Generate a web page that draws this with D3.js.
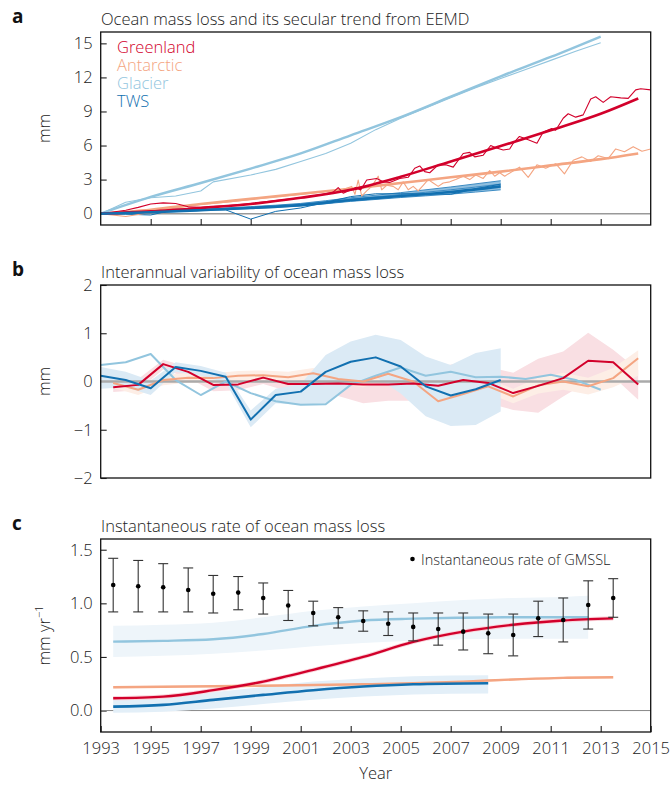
<!doctype html>
<html lang="en">
<head>
<meta charset="utf-8">
<title></title>
<script src="https://d3js.org/d3.v7.min.js"></script>
<style>
body{margin:0;background:#fff;}
text{font-family:"Open Sans","Noto Sans",sans-serif;fill:#222;font-weight:300;}
.tick text{font-size:16.5px;}
.tick line{stroke:#222;stroke-width:1.1;}
.title{font-size:16.5px;}
.plabel{font-size:19px;font-weight:700;fill:#111;}
</style>
</head>
<body>
<script>
// ---------- data: panel a (cumulative mass loss, mm) ----------
var glacierTrendYears = [1993,1995,1997,1999,2001,2003,2005,2007,2009,2011,2013];
var glacierTrend      = [0,1.47,2.7,3.97,5.3,6.9,8.5,10.3,12.1,13.8,15.6];
var glacierRawYears   = [1993,1994,1995,1996,1997,1997.5,1999,2000,2001,2002,2003,2004,2005,2006,2007,2008,2009,2010,2011,2012,2013];
var glacierRaw        = [0,1.0,1.4,1.55,2.0,2.8,3.4,3.9,4.6,5.3,6.2,7.4,8.4,9.3,10.2,11.1,11.9,12.7,13.5,14.3,15.05];

var greenTrendYears = [1993,1995,1997,1999,2001,2003,2005,2007,2009,2011,2013,2014.5];
var greenTrend      = [0,0.2,0.5,0.85,1.4,2.1,3.25,4.6,5.95,7.35,8.8,10.15];
var greenRawYears = [1993,1993.5,1994,1994.5,1995,1995.5,1996,1996.5,1997,1998,1999,2000,2001,2002,2002.3,2002.5,2002.7,2002.9,
  2003.04,2003.2,2003.4,2003.64,2004.04,2004.3,2004.56,2004.96,2005.3,2005.56,2005.76,2005.96,2006.16,2006.5,2006.8,2007.1,
  2007.5,2007.76,2007.96,2008.3,2008.6,2008.8,2009.1,2009.36,2009.5,2009.75,2010.1,2010.45,2010.7,2011.04,2011.2,2011.5,
  2011.7,2012.0,2012.3,2012.6,2012.8,2013.1,2013.4,2013.8,2014.1,2014.4,2014.6,2015];
var greenRaw = [0,0.15,0.3,0.55,0.85,0.95,0.9,0.6,0.55,0.7,0.9,1.15,1.4,1.75,1.9,2.3,1.8,2.0,
  2.08,2.3,2.08,2.96,3.1,2.8,2.75,3.1,3.2,4.0,4.2,3.7,3.6,4.3,4.3,4.1,
  5.3,5.4,5.0,5.15,6.0,5.8,5.6,5.7,6.2,6.8,6.5,6.2,7.2,7.5,7.35,8.4,
  8.8,8.5,8.7,10.1,10.3,9.8,10.3,10.2,10.15,10.9,11.0,10.9];

var antTrendYears = [1993,1995,1997,1999,2001,2003,2005,2007,2009,2011,2013,2014.5];
var antTrend      = [0,0.35,0.85,1.3,1.75,2.2,2.7,3.2,3.7,4.25,4.8,5.3];
var antRawYears = [1993,1994,1995,1996,1997,1998,1999,2000,2001,2002,2002.5,
  2003.04,2003.17,2003.3,2003.44,2003.64,2003.84,2004.1,2004.24,2004.44,2004.7,2004.9,2005.1,2005.3,2005.5,2005.7,2005.9,
  2006.1,2006.3,2006.5,2006.7,2006.96,2007.2,2007.5,2007.76,2008.0,2008.3,2008.56,2008.76,2008.96,2009.16,2009.3,2009.75,
  2010.1,2010.45,2010.8,2011.2,2011.55,2011.9,2012.25,2012.6,2012.9,2013.3,2013.6,2013.95,2014.3,2014.65,2015];
var antRaw = [0,-0.25,0.1,0.5,0.8,1.0,1.25,1.5,1.7,1.95,2.0,
  2.4,1.7,2.96,1.55,2.0,2.4,3.3,2.1,2.5,2.4,2.1,2.8,2.1,2.4,2.0,2.5,
  3.0,2.7,2.4,2.7,2.8,3.0,3.3,3.0,3.4,3.1,3.8,3.3,3.6,3.3,3.5,4.1,
  3.2,4.3,4.0,4.4,3.5,4.7,5.0,4.6,5.1,4.85,5.7,5.45,5.9,5.5,5.7];

var twsYears   = [1993,1995,1997,1999,2001,2003,2005,2007,2009];
var twsTrend   = [0,0.12,0.3,0.5,0.75,1.2,1.55,1.9,2.4];
var twsEnsHigh = [0,0.15,0.38,0.62,0.9,1.4,1.85,2.35,2.9];
var twsEnsMid  = [0,0.13,0.33,0.55,0.82,1.28,1.68,2.1,2.6];
var twsEnsLow  = [0,0.1,0.27,0.45,0.68,1.08,1.42,1.72,2.1];
var twsRawYears = [1993,1994,1995,1996,1997,1998,1999,2000,2001,2002,2003,2004,2005,2006,2007,2008,2009];
var twsRaw      = [0,-0.05,-0.12,0.38,0.35,0.33,-0.48,0.2,0.5,1.0,1.5,1.75,1.75,1.75,1.7,2.2,2.6];

// ---------- data: panel b (interannual variability, mm) ----------
var midYears = [1993.5,1994.5,1995.5,1996.5,1997.5,1998.5,1999.5,2000.5,2001.5,2002.5,2003.5,
                2004.5,2005.5,2006.5,2007.5,2008.5,2009.5,2010.5,2011.5,2012.5,2013.5,2014.5];
var greenIV   = [-0.12,-0.07,0.36,0.2,-0.07,-0.06,0.08,-0.05,-0.05,-0.04,-0.06,-0.06,-0.04,-0.09,0.03,-0.03,-0.24,-0.09,0.07,0.43,0.4,-0.06];
var greenIVhi = [0.0,0.05,0.45,0.3,0.05,0.05,0.18,0.1,0.1,0.15,0.25,0.3,0.3,0.3,0.4,0.3,0.18,0.47,0.62,1.01,0.66,0.24];
var greenIVlo = [-0.22,-0.18,0.25,0.08,-0.2,-0.18,-0.05,-0.2,-0.25,-0.3,-0.45,-0.4,-0.4,-0.45,-0.35,-0.45,-0.59,-0.65,-0.31,0.0,0.1,-0.38];
var antIV   = [-0.03,-0.17,0.03,0.08,0.07,0.12,0.13,0.09,0.17,0.05,0.0,0.16,0.0,-0.41,-0.26,-0.1,-0.31,-0.08,0.0,-0.1,0.07,0.48];
var antIVhi = [0.07,-0.05,0.13,0.18,0.17,0.22,0.23,0.2,0.28,0.16,0.12,0.28,0.12,-0.28,-0.12,0.05,-0.15,0.08,0.18,0.08,0.28,0.65];
var antIVlo = [-0.13,-0.28,-0.08,-0.02,-0.04,0.02,0.03,-0.02,0.06,-0.06,-0.12,0.04,-0.12,-0.52,-0.4,-0.25,-0.45,-0.25,-0.17,-0.27,-0.12,0.12];
var annYears  = [1993,1994,1995,1996,1997,1998,1999,2000,2001,2002,2003,2004,2005,2006,2007,2008,2009,2010,2011,2012,2013];
var glacierIV = [0.34,0.4,0.57,0.03,-0.28,0.0,-0.24,-0.41,-0.48,-0.47,-0.07,0.12,0.29,0.12,0.2,0.09,0.1,0.05,0.14,0.03,-0.17];
var twsIVYears = [1993,1994,1995,1996,1997,1998,1999,2000,2001,2002,2003,2004,2005,2006,2007,2008,2009];
var twsIV   = [0.12,0.03,-0.14,0.3,0.22,0.1,-0.79,-0.28,-0.21,0.2,0.41,0.5,0.31,-0.1,-0.29,-0.16,0.03];
var twsIVhi = [0.3,0.2,0.02,0.4,0.32,0.18,-0.6,-0.15,-0.05,0.55,0.83,0.97,0.86,0.52,0.34,0.59,0.69];
var twsIVlo = [-0.15,-0.12,-0.28,0.2,0.12,-0.02,-0.95,-0.45,-0.48,-0.47,-0.05,0.1,-0.25,-0.72,-0.92,-0.9,-0.62];

// ---------- data: panel c (instantaneous rate, mm/yr) ----------
var rateYears   = [1993.5,1995.5,1997.5,1999.5,2001.5,2003.5,2005.5,2007.5,2009.5,2011.5,2013.5];
var greenRate   = [0.115,0.13,0.19,0.27,0.38,0.5,0.64,0.736,0.8,0.84,0.86];
var greenRateHi = [0.135,0.15,0.21,0.29,0.4,0.52,0.66,0.756,0.82,0.86,0.88];
var greenRateLo = [0.095,0.11,0.17,0.25,0.36,0.48,0.62,0.716,0.78,0.82,0.84];
var antRate     = [0.217,0.222,0.227,0.232,0.238,0.245,0.255,0.27,0.29,0.305,0.31];
var antRateHi   = [0.227,0.232,0.237,0.242,0.248,0.255,0.265,0.28,0.3,0.315,0.32];
var antRateLo   = [0.207,0.212,0.217,0.222,0.228,0.235,0.245,0.26,0.28,0.295,0.3];
var glacRateYears = [1993.5,1995.5,1997.5,1999.5,2001.5,2003.5,2005.5,2007.5,2009.5,2011.5,2012.5];
var glacRate    = [0.643,0.65,0.665,0.714,0.79,0.84,0.857,0.866,0.87,0.87,0.87];
var glacRateHi  = [0.79,0.8,0.82,0.87,0.93,0.97,1.0,1.03,1.05,1.06,1.07];
var glacRateLo  = [0.5,0.51,0.53,0.56,0.6,0.63,0.65,0.665,0.67,0.67,0.67];
var twsRateYears = [1993.5,1995.5,1997.5,1999.5,2001.5,2003.5,2005.5,2008.5];
var twsRate     = [0.037,0.053,0.1,0.146,0.19,0.224,0.245,0.255];
var twsRateHi   = [0.1,0.12,0.17,0.22,0.27,0.3,0.32,0.33];
var twsRateLo   = [-0.02,-0.01,0.02,0.06,0.1,0.13,0.15,0.16];
var gmsslYears = [1993.5,1994.5,1995.5,1996.5,1997.5,1998.5,1999.5,2000.5,2001.5,2002.5,2003.5,
                  2004.5,2005.5,2006.5,2007.5,2008.5,2009.5,2010.5,2011.5,2012.5,2013.5];
var gmssl   = [1.171,1.16,1.15,1.124,1.09,1.10,1.05,0.98,0.91,0.87,0.835,0.81,0.78,0.76,0.736,0.72,0.705,0.86,0.845,0.985,1.05];
var gmsslHi = [1.42,1.40,1.37,1.33,1.26,1.25,1.19,1.12,1.02,0.96,0.93,0.92,0.91,0.91,0.91,0.90,0.90,1.02,1.05,1.21,1.23];
var gmsslLo = [0.92,0.92,0.92,0.92,0.91,0.94,0.90,0.84,0.79,0.77,0.74,0.70,0.65,0.61,0.565,0.53,0.51,0.69,0.64,0.76,0.87];

var legendNames = ["Greenland","Antarctic","Glacier","TWS"];
var yearTicks = [1993,1995,1997,1999,2001,2003,2005,2007,2009,2011,2013,2015];

// ---------- layout ----------
var red = "#d2002b", orange = "#f4a582", lblue = "#92c5de", dblue = "#1270b0";
var legendColors = [red, orange, lblue, dblue];

var svg = d3.select("body").append("svg")
  .attr("width", 670)
  .attr("height", 785)

var x = d3.scaleLinear().domain([1993,2015]).range([100.7,650.7]);
var yA = d3.scaleLinear().domain([-1,16]).range([225,32]);
var yB = d3.scaleLinear().domain([-2,2]).range([478,285]);
var yC = d3.scaleLinear().domain([-0.2,1.6]).range([732,539]);

function line(y, curve) {
  return d3.line().x(d=>x(d[0])).y(d=>y(d[1])).curve(curve || d3.curveLinear);
}
function area(y, curve) {
  return d3.area().x(d=>x(d[0])).y0(d=>y(d[1])).y1(d=>y(d[2])).curve(curve || d3.curveLinear);
}
function drawLine(g, y, xs, vs, color, w, curve) {
  g.append("path")
    .attr("d", line(y, curve)(d3.zip(xs, vs)))
    .style("fill","none").style("stroke",color).style("stroke-width",w)
    .style("stroke-linejoin","round");
}
function drawBand(g, y, xs, lo, hi, color, curve) {
  g.append("path")
    .attr("d", area(y, curve)(d3.zip(xs, lo, hi)))
    .style("fill", color).style("stroke","none");
}

function panel(y, top, bottom, ticks, fmt, label, title, letter, xLabels) {
  var g = svg.append("g");
  g.append("g")
    .attr("transform","translate("+x(1993)+",0)")
    .call(d3.axisLeft(y).tickValues(ticks).tickSize(-6).tickPadding(8).tickFormat(fmt))
    .call(a=>a.select(".domain").remove());
  if (xLabels !== null) {
    g.append("g")
      .attr("transform","translate(0,"+bottom+")")
      .call(d3.axisBottom(x).tickValues(xLabels ? yearTicks : yearTicks.slice(1,-1))
        .tickSize(-6).tickPadding(10).tickFormat(xLabels ? d3.format("d") : ""))
      .call(a=>a.select(".domain").remove());
  }
  svg.append("text").attr("class","plabel").attr("x",12).attr("y",top-9).text(letter);
  svg.append("text").attr("class","title").attr("x",101).attr("y",top-7).text(title);
  var lab = svg.append("text")
    .attr("transform","translate(50,"+((top+bottom)/2)+") rotate(-90)")
    .attr("text-anchor","middle").style("font-size","16.5px");
  lab.append("tspan").text(label);
  return lab;
}
function frame(top, bottom) {
  svg.append("rect")
    .attr("x", x(1993)).attr("y", top)
    .attr("width", x(2015)-x(1993)).attr("height", bottom-top)
    .style("fill","none").style("stroke","#111").style("stroke-width",1.3);
}

// ---------- panel a ----------
panel(yA, 32, 225, [0,3,6,9,12,15], d3.format("d"), "mm",
  "Ocean mass loss and its secular trend from EEMD", "a", false);
var gA = svg.append("g");
gA.append("line").attr("x1",x(1993)).attr("x2",x(2015)).attr("y1",yA(0)).attr("y2",yA(0))
  .style("stroke","#999").style("stroke-width",1.5);

drawBand(gA, yA, twsYears, twsEnsLow, twsEnsHigh, "#8fbfdf");
drawLine(gA, yA, twsYears, twsEnsHigh, "#3d8cc4", 1, d3.curveMonotoneX);
drawLine(gA, yA, twsYears, twsEnsMid, "#3d8cc4", 1, d3.curveMonotoneX);
drawLine(gA, yA, twsYears, twsEnsLow, "#3d8cc4", 1, d3.curveMonotoneX);
drawLine(gA, yA, twsRawYears, twsRaw, dblue, 1);
drawLine(gA, yA, glacierRawYears, glacierRaw, lblue, 1.1);
drawLine(gA, yA, glacierTrendYears, glacierTrend, lblue, 2.4, d3.curveMonotoneX);
drawLine(gA, yA, antRawYears, antRaw, orange, 1.1);
drawLine(gA, yA, antTrendYears, antTrend, orange, 2.6, d3.curveMonotoneX);
drawLine(gA, yA, greenRawYears, greenRaw, red, 1.1);
drawLine(gA, yA, greenTrendYears, greenTrend, red, 2.6, d3.curveMonotoneX);
drawLine(gA, yA, twsYears, twsTrend, dblue, 2.6, d3.curveMonotoneX);

gA.selectAll(".leg").data(legendNames).enter().append("text")
  .attr("x",117).attr("y",(d,i)=>52.5+i*18.3)
  .style("font-size","16.5px").style("fill",(d,i)=>legendColors[i])
  .text(d=>d);
frame(32, 225);

// ---------- panel b ----------
panel(yB, 285, 478, [-2,-1,0,1,2], d3.format("d"), "mm",
  "Interannual variability of ocean mass loss", "b", null);
var gB = svg.append("g");
drawBand(gB, yB, midYears, greenIVlo, greenIVhi, "#f9dfe3");
drawBand(gB, yB, midYears, antIVlo, antIVhi, "#fdeee6");
drawBand(gB, yB, twsIVYears, twsIVlo, twsIVhi, "#dbeaf5");
gB.append("line").attr("x1",x(1993)).attr("x2",x(2015)).attr("y1",yB(0)).attr("y2",yB(0))
  .style("stroke","#aaa").style("stroke-width",2.4);
drawLine(gB, yB, annYears, glacierIV, lblue, 2);
drawLine(gB, yB, midYears, antIV, orange, 2);
drawLine(gB, yB, midYears, greenIV, red, 2);
drawLine(gB, yB, twsIVYears, twsIV, dblue, 2);
frame(285, 478);

// ---------- panel c ----------
var labC = panel(yC, 539, 732, [0,0.5,1,1.5], d3.format(".1f"), "mm yr",
  "Instantaneous rate of ocean mass loss", "c", true);
labC.append("tspan").attr("dy",-7).style("font-size","11px").text("\u22121");
var gC = svg.append("g");
gC.append("line").attr("x1",x(1993)).attr("x2",x(2015)).attr("y1",yC(0)).attr("y2",yC(0))
  .style("stroke","#888").style("stroke-width",1);
var smooth = d3.curveMonotoneX;
drawBand(gC, yC, glacRateYears, glacRateLo, glacRateHi, "#eef5fa", smooth);
drawBand(gC, yC, twsRateYears, twsRateLo, twsRateHi, "#e3eff8", smooth);
drawBand(gC, yC, rateYears, greenRateLo, greenRateHi, "#f9d3da", smooth);
drawBand(gC, yC, rateYears, antRateLo, antRateHi, "#fde3d6", smooth);
drawLine(gC, yC, glacRateYears, glacRate, lblue, 2.4, smooth);
drawLine(gC, yC, rateYears, antRate, orange, 2.4, smooth);
drawLine(gC, yC, twsRateYears, twsRate, dblue, 2.6, smooth);
drawLine(gC, yC, rateYears, greenRate, red, 2.4, smooth);

var pts = d3.zip(gmsslYears, gmssl, gmsslLo, gmsslHi);
var eb = gC.selectAll(".eb").data(pts).enter().append("g");
eb.append("line").attr("x1",d=>x(d[0])).attr("x2",d=>x(d[0]))
  .attr("y1",d=>yC(d[2])).attr("y2",d=>yC(d[3])).style("stroke","#333").style("stroke-width",1.1);
eb.append("line").attr("x1",d=>x(d[0])-5).attr("x2",d=>x(d[0])+5)
  .attr("y1",d=>yC(d[3])).attr("y2",d=>yC(d[3])).style("stroke","#333").style("stroke-width",1.1);
eb.append("line").attr("x1",d=>x(d[0])-5).attr("x2",d=>x(d[0])+5)
  .attr("y1",d=>yC(d[2])).attr("y2",d=>yC(d[2])).style("stroke","#333").style("stroke-width",1.1);
eb.append("circle").attr("cx",d=>x(d[0])).attr("cy",d=>yC(d[1])).attr("r",2.3).style("fill","#000");

gC.append("circle").attr("cx",412.5).attr("cy",559).attr("r",2.3).style("fill","#000");
gC.append("text").attr("x",421).attr("y",564.5).style("font-size","14.5px")
  .text("Instantaneous rate of GMSSL");
frame(539, 732);

svg.append("text").attr("x",(x(1993)+x(2015))/2).attr("y",779)
  .attr("text-anchor","middle").style("font-size","16.5px").text("Year");
</script>
</body>
</html>
